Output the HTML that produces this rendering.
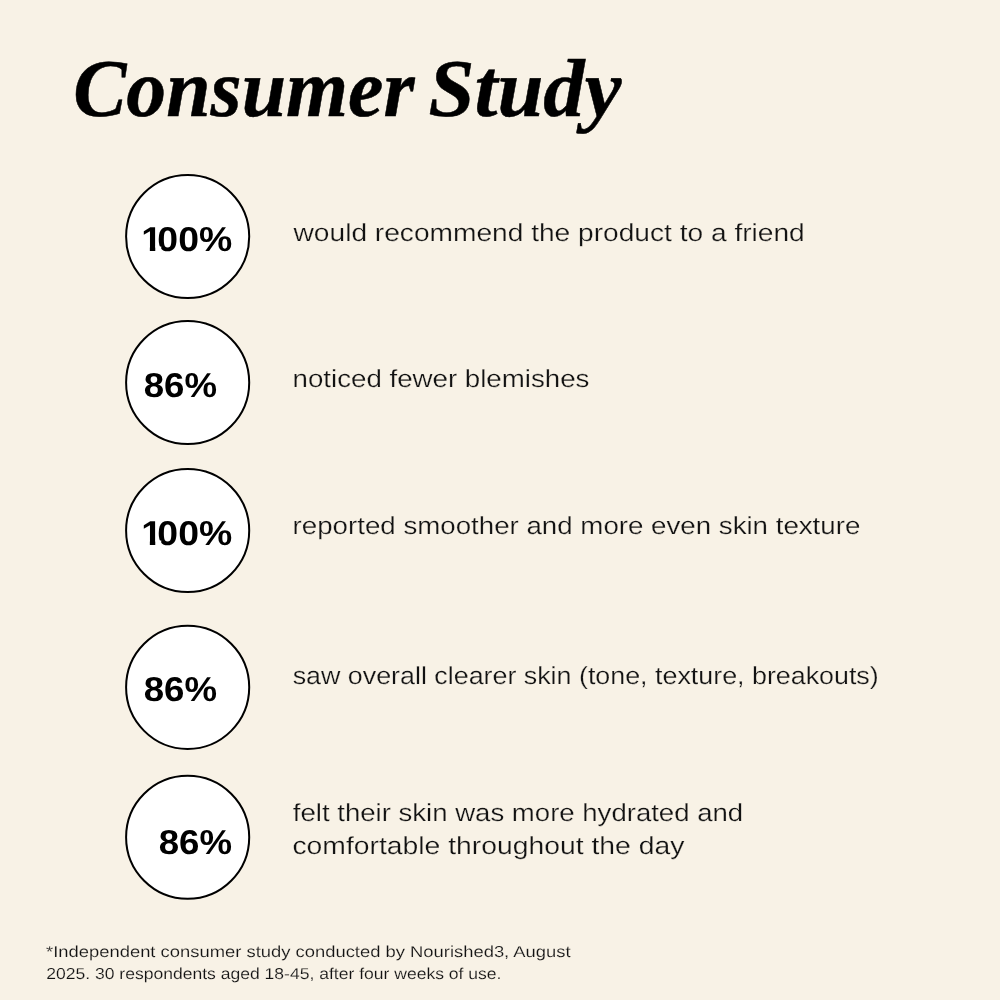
<!DOCTYPE html>
<html lang="en">
<head>
<meta charset="utf-8">
<title>Consumer Study</title>
<style>
html,body,h1{margin:0;padding:0;}
h1{font:inherit;}
body{width:1000px;height:1000px;background:#f8f2e6;position:relative;overflow:hidden;font-family:"Liberation Sans",sans-serif;color:#121212;}
.t{position:absolute;left:0;top:0;text-rendering:geometricPrecision;white-space:nowrap;transform-origin:0 0;line-height:1;margin:0;}
.hd{font-family:"Liberation Serif",serif;font-weight:700;font-style:italic;color:#000;-webkit-text-stroke:0.5px #000;}
.c{position:absolute;left:0;top:0;}
.p{font-weight:700;color:#000;}
.one::first-letter{margin-right:-4.4px;}
.b{-webkit-text-stroke:0.25px #f8f2e6;}
.f{-webkit-text-stroke:0.15px #f8f2e6;}
.one{clip-path:polygon(0 0,100% 0,100% 100%,18.4px 100%,18.4px 23.6px,12.9px 23.6px,12.9px 100%,7.9px 100%,7.9px 23.6px,0 23.6px);}
</style>
</head>
<body>
<svg class="c" width="1000" height="1000" viewBox="0 0 1000 1000" aria-hidden="true">
<g fill="#fff" stroke="#000" stroke-width="2">
<circle cx="187.65" cy="236.55" r="61.55"/>
<circle cx="187.65" cy="382.55" r="61.55"/>
<circle cx="187.65" cy="530.55" r="61.55"/>
<circle cx="187.65" cy="687.35" r="61.55"/>
<circle cx="187.65" cy="837.25" r="61.55"/>
</g>
</svg>
<h1 id="h"><span class="t hd" id="ha" style="font-size:82px;transform:translate(73.18px,48px) scale(0.9725,1.0000)">Consumer</span> <span class="t hd" id="hb" style="font-size:82px;transform:translate(428.45px,48px) scale(1.0080,1.0000)">Study</span></h1>
<div class="t p one" id="p1" style="font-size:34.5px;transform:translate(141.28px,223px) scale(1.0842,1.0000)">100%</div>
<div class="t p" id="p2" style="font-size:34.5px;transform:translate(143.75px,369px) scale(1.0617,1.0000)">86%</div>
<div class="t p one" id="p3" style="font-size:34.5px;transform:translate(141.28px,517px) scale(1.0842,1.0000)">100%</div>
<div class="t p" id="p4" style="font-size:34.5px;transform:translate(143.75px,673px) scale(1.0617,1.0000)">86%</div>
<div class="t p" id="p5" style="font-size:34.5px;transform:translate(158.75px,826px) scale(1.0617,1.0000)">86%</div>
<div class="t b" id="b1" style="font-size:24.7px;transform:translate(293.54px,222px) scale(1.1392,1.0000)">would recommend the product to a friend</div>
<div class="t b" id="b2" style="font-size:24.7px;transform:translate(292.59px,368px) scale(1.1207,1.0000)">noticed fewer blemishes</div>
<div class="t b" id="b3" style="font-size:24.7px;transform:translate(292.59px,515px) scale(1.1212,1.0000)">reported smoother and more even skin texture</div>
<div class="t b" id="b4" style="font-size:24.7px;transform:translate(292.67px,665px) scale(1.0868,1.0000)">saw overall clearer skin (tone, texture, breakouts)</div>
<div class="t b" id="b5" style="font-size:24.7px;transform:translate(292.85px,802px) scale(1.1162,1.0000)">felt their skin was more hydrated and</div>
<div class="t b" id="b6" style="font-size:24.7px;transform:translate(292.46px,835px) scale(1.1467,1.0000)">comfortable throughout the day</div>
<div class="t f" id="f1" style="font-size:15.8px;transform:translate(46.04px,945px) scale(1.1643,1.0000)">*Independent consumer study conducted by Nourished3, August</div>
<div class="t f" id="f2" style="font-size:15.8px;transform:translate(46.23px,967px) scale(1.1099,1.0000)">2025. 30 respondents aged 18-45, after four weeks of use.</div>
</body>
</html>
